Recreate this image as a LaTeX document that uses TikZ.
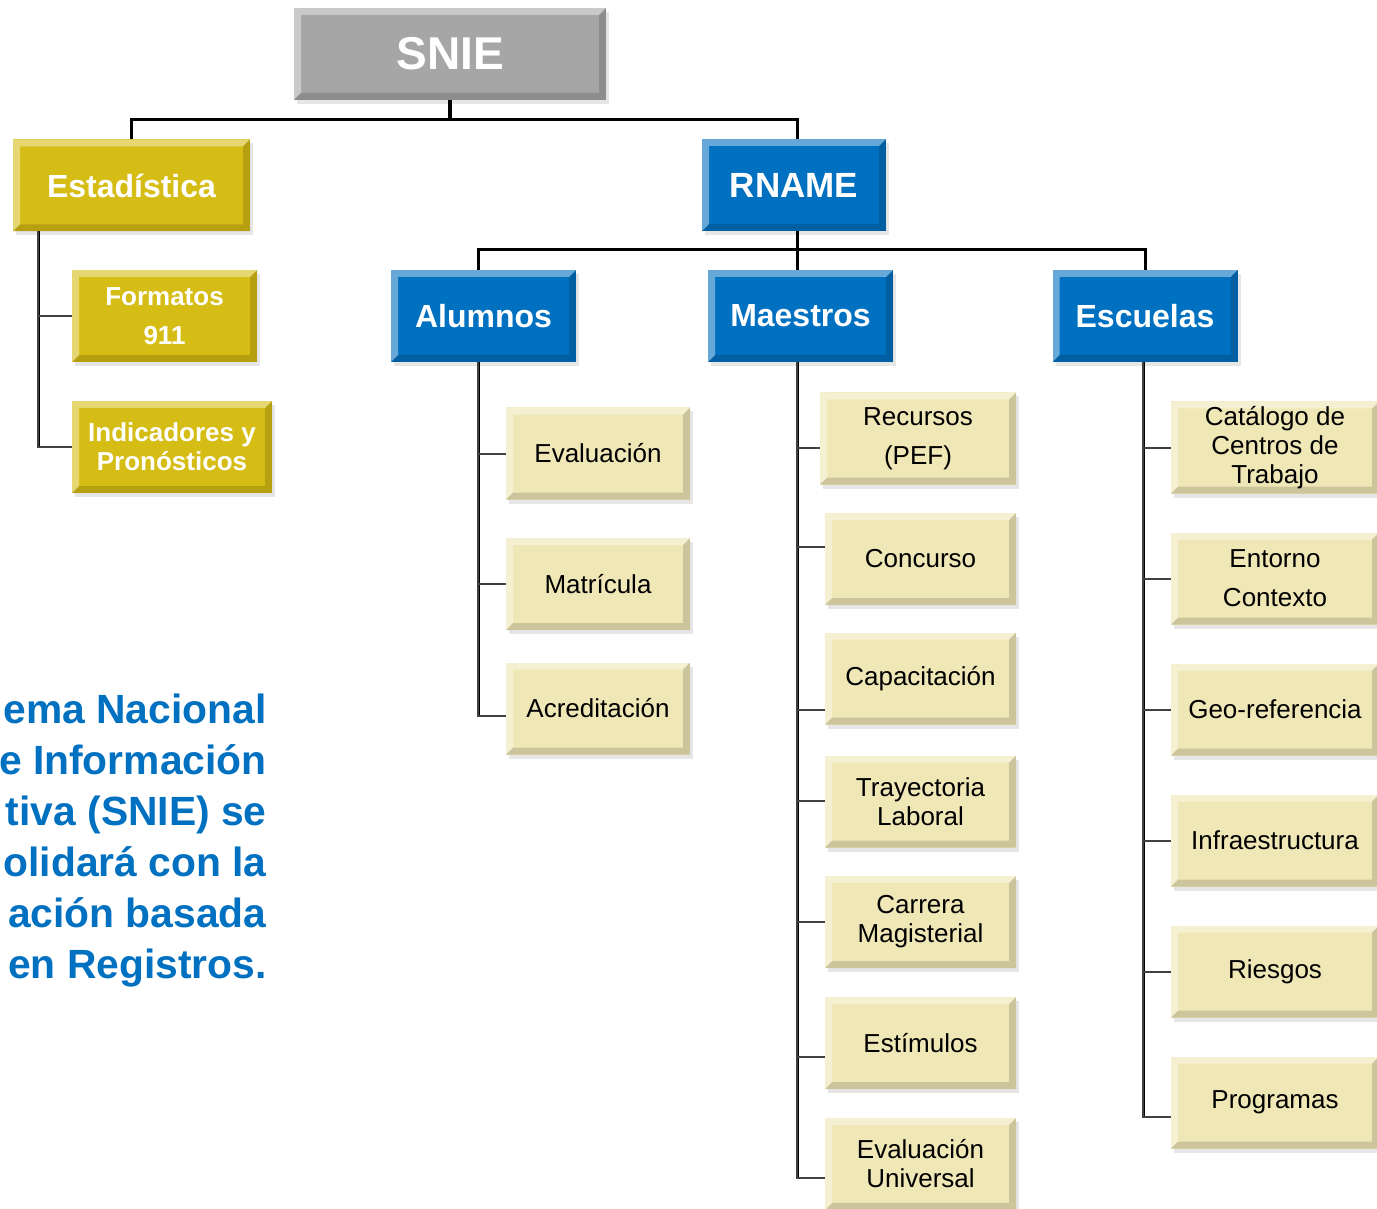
\documentclass[tikz,border=0pt]{standalone}
\usepackage{fontspec}
\setmainfont{Liberation Sans}
\usetikzlibrary{positioning,calc,shadows}
\definecolor{grisbox}{RGB}{166,166,166}
\definecolor{orobox}{RGB}{214,189,22}
\definecolor{azulbox}{RGB}{0,112,192}
\definecolor{cremabox}{RGB}{240,231,183}
\definecolor{ramal}{RGB}{64,64,64}
\begin{document}
\begin{tikzpicture}[x=0.5pt,y=-0.5pt,
				bevel/.style={path picture={
					\fill[white,opacity=0.4] (path picture bounding box.north west) -- (path picture bounding box.north east) -- ([shift={(-3.5pt,-3.5pt)}]path picture bounding box.north east) -- ([shift={(3.5pt,-3.5pt)}]path picture bounding box.north west) -- ([shift={(3.5pt,3.5pt)}]path picture bounding box.south west) -- (path picture bounding box.south west) -- cycle;
					\fill[black,opacity=0.15] (path picture bounding box.south east) -- (path picture bounding box.south west) -- ([shift={(3.5pt,3.5pt)}]path picture bounding box.south west) -- ([shift={(-3.5pt,3.5pt)}]path picture bounding box.south east) -- ([shift={(-3.5pt,-3.5pt)}]path picture bounding box.north east) -- (path picture bounding box.north east) -- cycle;}},
				box/.style={rectangle,bevel,align=center,inner sep=0pt,outer sep=0pt,minimum height=46pt,
					drop shadow={opacity=0.2,shadow xshift=1.5pt,shadow yshift=-2pt}},
				topbox/.style={box,fill=grisbox,text=white,minimum width=156pt,font=\bfseries\fontsize{23}{27}\selectfont},
				orobox/.style={box,fill=orobox,text=white,font=\bfseries\fontsize{13}{14.5}\selectfont},
				azulbox/.style={box,fill=azulbox,text=white,minimum width=92.5pt,font=\bfseries\fontsize{16}{19}\selectfont},
				hoja/.style={box,fill=cremabox,text=black,font=\fontsize{13}{14.5}\selectfont},
				bus/.style={line width=1.5pt,black},
				rama/.style={line width=1pt,ramal},
				nota/.style={anchor=base east,text=azulbox,inner sep=0pt,font=\bfseries\fontsize{20.4}{25}\selectfont}]
				\clip (0,0) rectangle (1377,1209);
				\node (SNIE)  [topbox] at (450,54)                                     {SNIE};
				\node (EST)   [orobox,minimum width=118.5pt,font=\bfseries\fontsize{16}{19}\selectfont] at (131.5,185.5) {Estadística};
				\node (RNAME) [azulbox,minimum width=92pt,font=\bfseries\fontsize{17.5}{20}\selectfont] at (794,185) {RNAME};
				\node (FMT)   [orobox,minimum width=92.5pt] at (164.5,316)             {Formatos\\[5pt]911};
				\node (IND)   [orobox,minimum width=100pt]  at (172,447)               {Indicadores y\\Pronósticos};
				\node (ALU)   [azulbox] at (483.5,316)                                 {Alumnos};
				\node (MAE)   [azulbox] at (800.5,316)                                 {Maestros};
				\node (ESC)   [azulbox] at (1145,316)                                  {Escuelas};
				\node (EVA)   [hoja,minimum width=92pt] at (598,453.5)                 {Evaluación};
				\node (MAT)   [hoja,minimum width=92pt] at (598,584)                   {Matrícula};
				\node (ACR)   [hoja,minimum width=92pt] at (598,708.5)                 {Acreditación};
				\node (REC)   [hoja,minimum width=98pt]   at (918,438.5)               {Recursos\\[5pt](PEF)};
				\node (CON)   [hoja,minimum width=95.5pt] at (920.5,559)               {Concurso};
				\node (CAP)   [hoja,minimum width=95.5pt] at (920.5,678.5)             {Capacitación};
				\node (TRA)   [hoja,minimum width=95.5pt] at (920.5,801.5)             {Trayectoria\\Laboral};
				\node (CAR)   [hoja,minimum width=95.5pt] at (920.5,922)               {Carrera\\Magisterial};
				\node (ESTI)  [hoja,minimum width=95.5pt] at (920.5,1043)              {Estímulos};
				\node (EVU)   [hoja,minimum width=95.5pt] at (920.5,1164)              {Evaluación\\Universal};
				\node (CAT)   [hoja,minimum width=104pt] at (1275,447.5)               {Catálogo de\\Centros de\\Trabajo};
				\node (ENT)   [hoja,minimum width=104pt] at (1275,578.5)               {Entorno\\[5pt]Contexto};
				\node (GEO)   [hoja,minimum width=104pt] at (1275,709.5)               {Geo-referencia};
				\node (INF)   [hoja,minimum width=104pt] at (1275,840.5)               {Infraestructura};
				\node (RIE)   [hoja,minimum width=104pt] at (1275,971.5)               {Riesgos};
				\node (PRO)   [hoja,minimum width=104pt] at (1275,1102.5)              {Programas};
				\foreach \t [count=\i from 0] in {ema Nacional,e Información,tiva (SNIE) se,olidará con la,ación basada,en Registros.}
					\node (L\i) [nota] at (267,723+51*\i) {\t};

				\coordinate (J1) at (450,120);
				\coordinate (J2) at (797,250);
				\draw[bus,line width=2pt] (SNIE.south) -- (J1);
				\draw[bus] (EST.north) |- (J1) -| ([xshift=1.5pt]RNAME.north);
				\draw[bus] ([xshift=1.5pt]RNAME.south) -- (J2);
				\draw[bus] (ALU.north -| 478,0) |- (J2) -| (ESC.north);
				\draw[bus] (J2) -- (J2 |- MAE.north);
				\draw[bus] ([xshift=12.5pt]EST.south west) -- ++(0,215);
				\draw[rama] ([xshift=12.5pt]EST.south west) |- (FMT.west) ([xshift=12.5pt]EST.south west) |- (IND.west);
				\draw[bus] ([xshift=-2.75pt]ALU.south) -- ++(0,354);
				\foreach \n/\d in {EVA/0,MAT/0,ACR/-3.75}
					\draw[rama] ([xshift=-2.75pt]ALU.south) |- ([yshift=\d pt]\n.west);
				\draw[bus] ([xshift=-1.75pt]MAE.south) -- ++(0,816);
				\foreach \n/\d in {REC/-4.75,CON/6,CAP/-15.75,TRA/0.25,CAR/0,ESTI/-7,EVU/-7}
					\draw[rama] ([xshift=-1.75pt]MAE.south) |- ([yshift=\d pt]\n.west);
				\draw[bus] ([xshift=-1pt]ESC.south) -- ++(0,755);
				\foreach \n/\d in {CAT/0,ENT/0,GEO/0,INF/0,RIE/0,PRO/-7.25}
					\draw[rama] ([xshift=-1pt]ESC.south) |- ([yshift=\d pt]\n.west);
			\end{tikzpicture}
\end{document}
